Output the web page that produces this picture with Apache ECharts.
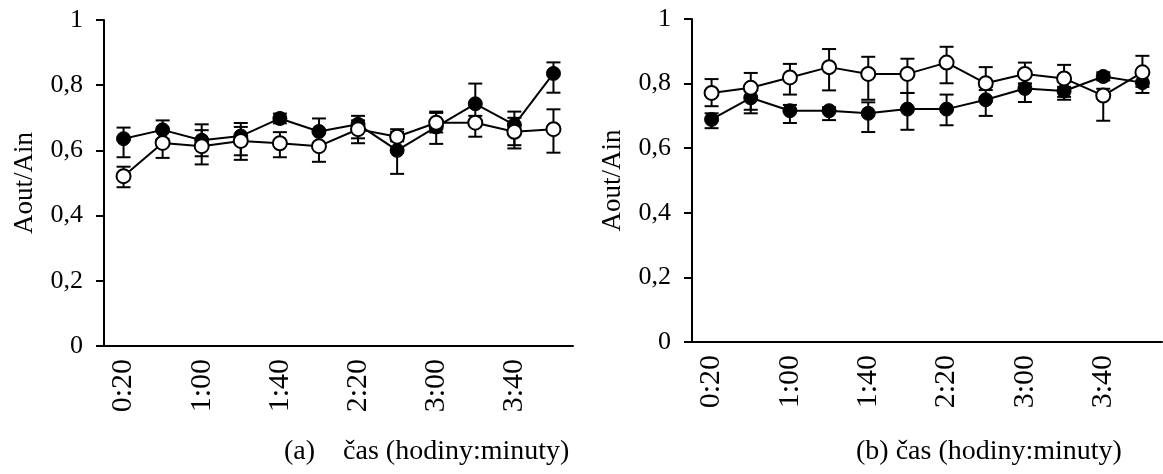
<!DOCTYPE html>
<html>
<head>
<meta charset="utf-8">
<script src="https://cdn.jsdelivr.net/npm/echarts@6/dist/echarts.min.js"></script>
<style>html,body{margin:0;padding:0;background:#fff;}#c{width:1163px;height:474px;}</style>
</head>
<body>
<div id="c"></div>
<script>
const categories = ['0:20','0:40','1:00','1:20','1:40','2:00','2:20','2:40','3:00','3:20','3:40','4:00'];
const yTickLabels = ['0','0,2','0,4','0,6','0,8','1'];

// panel (a)
const aFilled     = [0.636, 0.663, 0.631, 0.644, 0.698, 0.658, 0.680, 0.600, 0.672, 0.743, 0.678, 0.836];
const aFilledLow  = [0.579, 0.634, 0.582, 0.585, 0.683, 0.618, 0.637, 0.528, 0.620, 0.685, 0.616, 0.777];
const aFilledHigh = [0.670, 0.692, 0.680, 0.684, 0.713, 0.698, 0.706, 0.665, 0.719, 0.805, 0.719, 0.870];
const aOpen       = [0.521, 0.623, 0.613, 0.629, 0.622, 0.613, 0.665, 0.642, 0.685, 0.685, 0.657, 0.665];
const aOpenLow    = [0.487, 0.577, 0.557, 0.571, 0.579, 0.565, 0.622, 0.628, 0.655, 0.642, 0.606, 0.593];
const aOpenHigh   = [0.550, 0.660, 0.662, 0.672, 0.656, 0.660, 0.692, 0.657, 0.715, 0.706, 0.700, 0.726];

// panel (b)
const bFilled     = [0.689, 0.756, 0.716, 0.716, 0.708, 0.721, 0.721, 0.750, 0.785, 0.777, 0.822, 0.803];
const bFilledLow  = [0.662, 0.708, 0.678, 0.687, 0.650, 0.657, 0.671, 0.700, 0.743, 0.750, 0.810, 0.771];
const bFilledHigh = [0.708, 0.790, 0.734, 0.727, 0.742, 0.771, 0.766, 0.790, 0.800, 0.790, 0.835, 0.830];
const bOpen       = [0.771, 0.787, 0.819, 0.851, 0.830, 0.830, 0.865, 0.801, 0.830, 0.816, 0.763, 0.835];
const bOpenLow    = [0.730, 0.719, 0.766, 0.779, 0.750, 0.771, 0.801, 0.780, 0.800, 0.759, 0.685, 0.790];
const bOpenHigh   = [0.814, 0.833, 0.861, 0.907, 0.883, 0.877, 0.914, 0.851, 0.865, 0.858, 0.784, 0.886];

const yName = 'Aout/Ain';
const titleA = '(a)    čas (hodiny:minuty)';
const titleB = '(b) čas (hodiny:minuty)';

const FONT = 'Liberation Serif';

function errData(low, high) {
  return low.map((l, i) => [i, l, high[i]]);
}
function errSeries(idx, low, high) {
  return {
    type: 'custom', xAxisIndex: idx, yAxisIndex: idx, z: 1, silent: true,
    data: errData(low, high),
    encode: { x: 0, y: [1, 2] },
    renderItem: function (params, api) {
      const x = api.value(0);
      const p1 = api.coord([x, api.value(1)]);
      const p2 = api.coord([x, api.value(2)]);
      const hw = 7;
      const st = { stroke: '#000', lineWidth: 2 };
      return {
        type: 'group',
        children: [
          { type: 'line', shape: { x1: p1[0], y1: p1[1], x2: p2[0], y2: p2[1] }, style: st },
          { type: 'line', shape: { x1: p1[0] - hw, y1: p1[1], x2: p1[0] + hw, y2: p1[1] }, style: st },
          { type: 'line', shape: { x1: p2[0] - hw, y1: p2[1], x2: p2[0] + hw, y2: p2[1] }, style: st }
        ]
      };
    }
  };
}
function lineSeries(idx, data, filled) {
  return {
    type: 'line', xAxisIndex: idx, yAxisIndex: idx, z: 3,
    data: data, symbol: 'circle', symbolSize: 14,
    lineStyle: { color: '#000', width: 2 },
    itemStyle: filled ? { color: '#000', borderColor: '#000', borderWidth: 1 }
                      : { color: '#fff', borderColor: '#000', borderWidth: 2 }
  };
}
function xAx(idx) {
  return {
    type: 'category', gridIndex: idx, data: categories, boundaryGap: true,
    axisLine: { lineStyle: { color: '#000', width: 2 } },
    axisTick: { interval: 0, length: 9, lineStyle: { color: '#000', width: 2 } },
    axisLabel: { interval: 1, rotate: 90, margin: 13, color: '#000', fontFamily: FONT, fontSize: 30 },
    splitLine: { show: false }
  };
}
function yAx(idx) {
  return {
    type: 'value', gridIndex: idx, min: 0, max: 1, interval: 0.2,
    name: yName, nameLocation: 'middle', nameGap: 66, nameRotate: 90,
    nameTextStyle: { color: '#000', fontFamily: FONT, fontSize: 27 },
    axisLine: { show: true, lineStyle: { color: '#000', width: 2 } },
    axisTick: { show: true, length: 8, lineStyle: { color: '#000', width: 2 } },
    axisLabel: { margin: 21, color: '#000', fontFamily: FONT, fontSize: 26,
      formatter: v => yTickLabels[Math.round(v / 0.2)] },
    splitLine: { show: false }
  };
}

const chart = echarts.init(document.getElementById('c'), null, { renderer: 'canvas' });
chart.setOption({
  animation: false,
  backgroundColor: '#fff',
  title: [
    { text: titleA, left: 284, top: 438, padding: 0,
      textStyle: { color: '#000', fontFamily: FONT, fontSize: 28, fontWeight: 'normal' } },
    { text: titleB, left: 856, top: 438, padding: 0,
      textStyle: { color: '#000', fontFamily: FONT, fontSize: 28, fontWeight: 'normal' } }
  ],
  grid: [
    { left: 104, top: 20, width: 469, height: 326 },
    { left: 692, top: 19, width: 470, height: 323 }
  ],
  xAxis: [xAx(0), xAx(1)],
  yAxis: [yAx(0), yAx(1)],
  series: [
    errSeries(0, aFilledLow, aFilledHigh),
    errSeries(0, aOpenLow, aOpenHigh),
    lineSeries(0, aFilled, true),
    lineSeries(0, aOpen, false),
    errSeries(1, bFilledLow, bFilledHigh),
    errSeries(1, bOpenLow, bOpenHigh),
    lineSeries(1, bFilled, true),
    lineSeries(1, bOpen, false)
  ]
});
</script>
</body>
</html>
